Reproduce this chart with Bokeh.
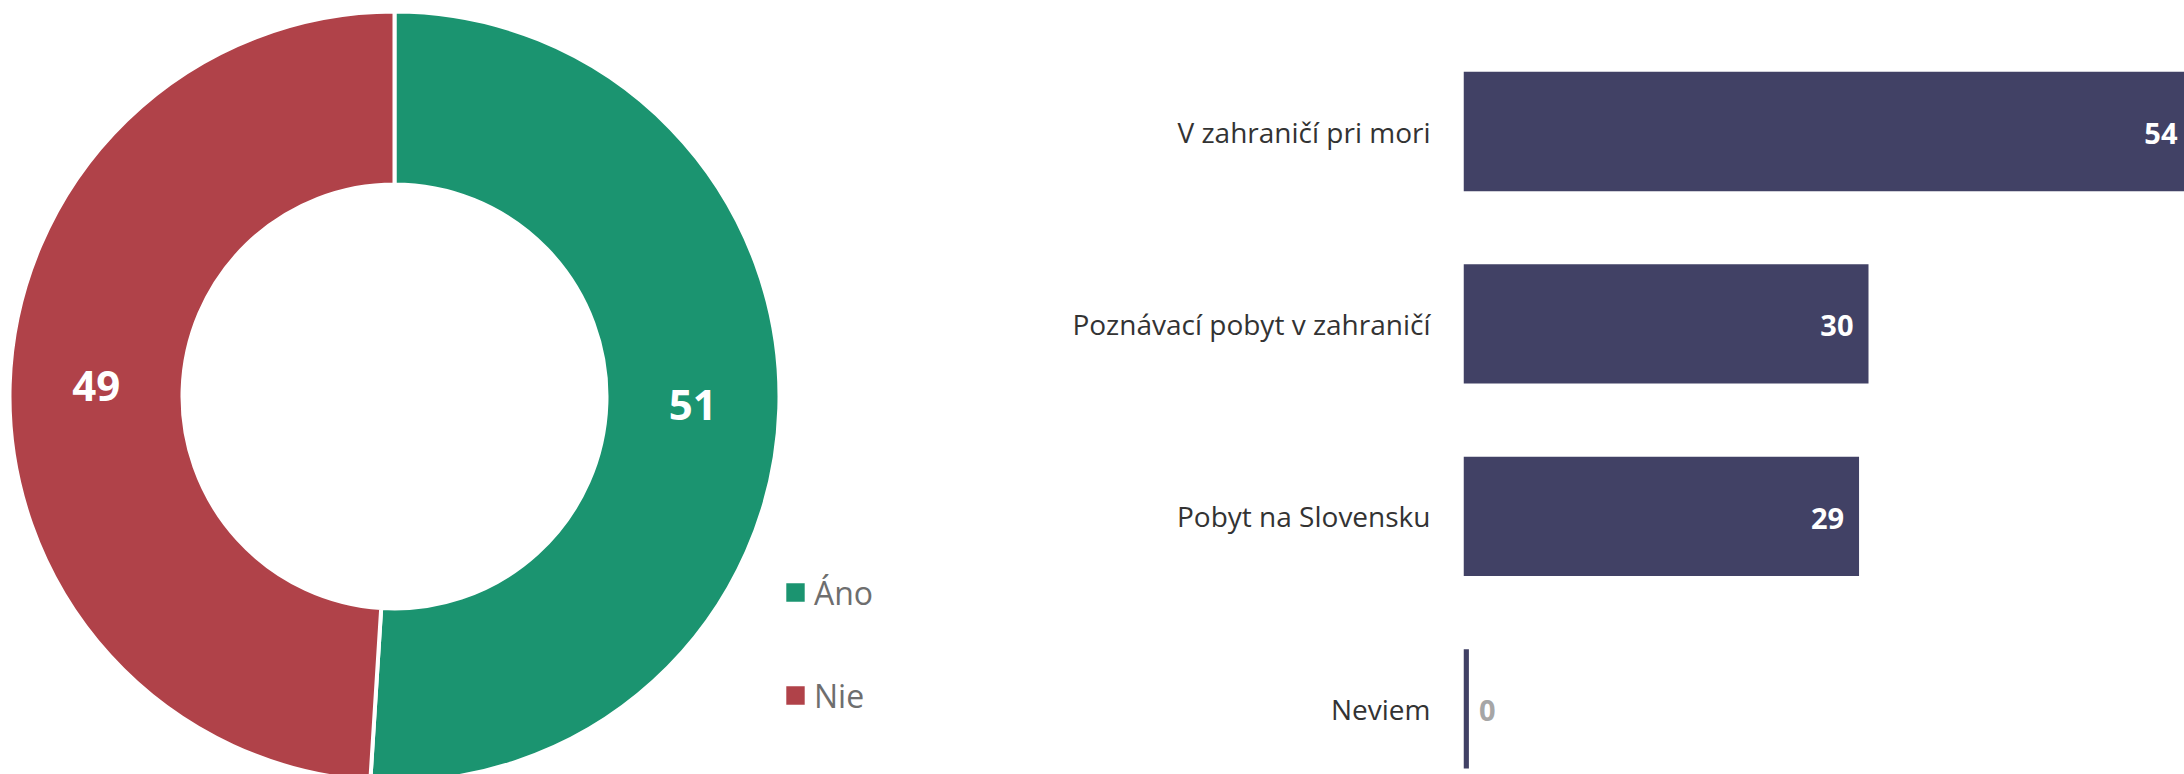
import numpy as np
from bokeh.plotting import figure
from bokeh.models import ColumnDataSource, Range1d, FixedTicker
from bokeh.layouts import row
from bokeh.embed import file_html
from bokeh.resources import INLINE
from bokeh.core.properties import value

# ---------------- data ----------------
donut_labels = ["Áno", "Nie"]
donut_values = [51, 49]
donut_colors = ["#1B9470", "#B04249"]

bar_categories = ["V zahraničí pri mori", "Poznávací pobyt v zahraničí",
                  "Pobyt na Slovensku", "Neviem"]
bar_values = [54, 30, 29.3, 0.4]
bar_color = "#414165"

# ---------------- layout ----------------
H = 774
W1 = 1008
W2 = 2184 - W1
FONT = "Open Sans"

# ---------------- donut ----------------
p1 = figure(width=W1, height=H, x_range=Range1d(0, W1), y_range=Range1d(0, H),
            output_backend="svg", toolbar_location=None,
            x_axis_location=None, y_axis_location=None,
            min_border=0, outline_line_color=None)
p1.grid.visible = False

cx, cy = 394, H - 396
r_in, r_out = 212, 385

vals = np.array(donut_values, dtype=float)
frac = vals / vals.sum()
cum_end = np.cumsum(frac)
cum_start = cum_end - frac
start = np.pi / 2 - 2 * np.pi * cum_start
end = np.pi / 2 - 2 * np.pi * cum_end
mid = (start + end) / 2
r_mid = (r_in + r_out) / 2

dsrc = ColumnDataSource(dict(
    label=donut_labels, value=donut_values, color=donut_colors,
    start=start, end=end,
    lx=cx + r_mid * np.cos(mid), ly=cy + r_mid * np.sin(mid),
    txt=[str(v) for v in donut_values],
))

p1.annular_wedge(x=cx, y=cy, inner_radius=r_in, outer_radius=r_out,
                 start_angle="start", end_angle="end", direction="clock",
                 fill_color="color", line_color="white", line_width=4,
                 source=dsrc, legend_field="label")

p1.text(x="lx", y="ly", text="txt", source=dsrc, text_align="center",
        text_baseline="middle", text_color="white",
        text_font=value(FONT), text_font_style="bold", text_font_size="42px",
        y_offset=-1)

leg = p1.legend[0]
leg.location = (781, 57.5)
leg.orientation = "vertical"
leg.glyph_width = 28
leg.glyph_height = 28
leg.label_standoff = 5
leg.spacing = 60
leg.padding = 0
leg.margin = 0
leg.border_line_color = None
leg.background_fill_alpha = 0
leg.label_text_font = FONT
leg.label_text_font_size = "32px"
leg.label_text_color = "#6E6E6E"

# ---------------- bars ----------------
frame_left = 1463
px_per_unit = 13.5
x_end = (2184 - frame_left) / px_per_unit
sp = 192.4
y_top = -131 / sp
y_bot = 3 + (H - 708.3) / sp

p2 = figure(width=W2, height=H, x_range=Range1d(0, x_end),
            y_range=Range1d(y_bot, y_top),
            output_backend="svg", toolbar_location=None,
            x_axis_location=None,
            min_border_left=frame_left - W1, min_border_right=0,
            min_border_top=0, min_border_bottom=0,
            outline_line_color=None)
p2.grid.visible = False

idx = list(range(len(bar_categories)))
bsrc = ColumnDataSource(dict(y=idx, v=bar_values, cat=bar_categories))
p2.hbar(y="y", left=0, right="v", height=0.62, fill_color=bar_color,
        line_color=None, source=bsrc)

inside = [i for i, v in enumerate(bar_values) if v >= 5]
outside = [i for i, v in enumerate(bar_values) if v < 5]
in_src = ColumnDataSource(dict(x=[bar_values[i] for i in inside], y=inside,
                               t=[str(int(round(bar_values[i]))) for i in inside]))
out_src = ColumnDataSource(dict(x=[bar_values[i] for i in outside], y=outside,
                                t=[str(int(round(bar_values[i]))) for i in outside]))
p2.text(x="x", y="y", text="t", source=in_src, x_offset=-15,
        text_align="right", text_baseline="middle", text_color="white",
        text_font=value(FONT), text_font_style="bold", text_font_size="29px",
        y_offset=2)
p2.text(x="x", y="y", text="t", source=out_src, x_offset=10,
        text_align="left", text_baseline="middle", text_color="#A6A6A6",
        text_font=value(FONT), text_font_style="bold", text_font_size="29px",
        y_offset=2)

ax = p2.yaxis[0]
ax.ticker = FixedTicker(ticks=idx)
ax.major_label_overrides = {i: c for i, c in zip(idx, bar_categories)}
ax.axis_line_color = None
ax.major_tick_line_color = None
ax.minor_tick_line_color = None
ax.major_label_standoff = 27
ax.major_label_text_font = FONT
ax.major_label_text_font_size = "28px"
ax.major_label_text_color = "#333333"

layout = row(p1, p2)
open("out.html", "w").write(file_html(layout, INLINE))
